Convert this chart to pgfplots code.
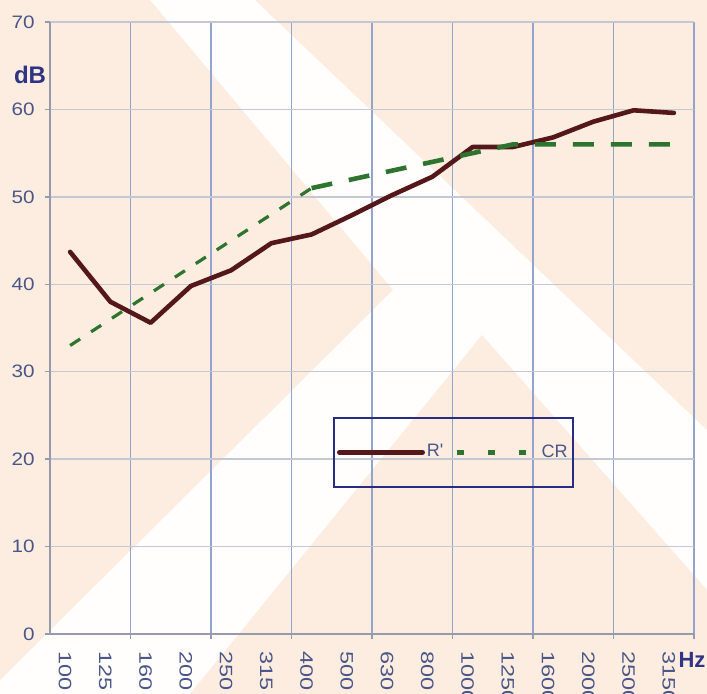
\documentclass[border=0pt]{standalone}
\usepackage{pgfplots}
\pgfplotsset{compat=1.18}
\usepackage{fontspec}
\setmainfont{Liberation Sans}
\definecolor{peach}{RGB}{252,237,224}
\definecolor{paper}{RGB}{255,254,252}
\definecolor{tickc}{RGB}{74,86,136}
\definecolor{navy}{RGB}{48,52,132}
\definecolor{rcol}{RGB}{84,24,26}
\definecolor{gcol}{RGB}{46,116,46}
\definecolor{vgrid}{RGB}{146,164,206}
\definecolor{hgrid}{RGB}{196,200,210}
\definecolor{axc}{RGB}{150,154,170}
\definecolor{lbox}{RGB}{40,44,130}
\newcommand\xl[1]{\scalebox{1.3}[1]{#1}}
\newcommand\yl[1]{\scalebox{1.15}[1]{#1}}
\begin{document}
\begin{tikzpicture}
\path[use as bounding box] (-25pt,-30pt) rectangle (328.5pt,317pt);
\fill[paper] (-25pt,-30pt) rectangle (328.5pt,317pt);
% watermark
\fill[peach] (-25pt,317pt) -- (50pt,317pt) -- (171.5pt,172pt) -- (-25pt,-23pt) -- cycle;
\fill[peach] (216pt,149.5pt) -- (328.5pt,22pt) -- (328.5pt,-30pt) -- (70pt,-30pt) -- cycle;
\fill[peach] (102.5pt,317pt) -- (328.5pt,317pt) -- (328.5pt,102pt) -- cycle;
\begin{axis}[
  at={(0pt,0pt)}, anchor=south west,
  scale only axis, width=322pt, height=306pt,
  xmin=-0.5, xmax=15.5, ymin=0, ymax=70,
  axis lines=left,
  axis line style={-, draw=axc, line width=0.9pt},
  ytick={0,10,...,70},
  yticklabels={\yl{0},\yl{10},\yl{20},\yl{30},\yl{40},\yl{50},\yl{60},\yl{70}},
  ymajorgrids, y grid style={hgrid, line width=0.7pt},
  xtick={0,...,15},
  xticklabels={\xl{100},\xl{125},\xl{160},\xl{200},\xl{250},\xl{315},\xl{400},\xl{500},\xl{630},\xl{800},\xl{1000},\xl{1250},\xl{1600},\xl{2000},\xl{2500},\xl{3150}},
  minor xtick={1.5,3.5,5.5,7.5,9.5,11.5,13.5,15.5},
  xminorgrids, minor x grid style={vgrid, line width=0.7pt},
  tick align=outside,
  major x tick style={draw=none},
  minor x tick style={draw=axc, line width=0.7pt},
  ytick style={draw=axc, line width=0.7pt},
  major tick length=2.5pt, minor tick length=2.5pt,
  tick label style={text=tickc, font=\fontsize{9}{10}\selectfont},
  xticklabel style={xshift=-2.5pt, yshift=-6pt, rotate=-90, anchor=west, inner sep=0pt},
  yticklabel style={anchor=east, inner sep=0pt, xshift=-5pt},
  legend columns=2,
  legend style={
    at={(rel axis cs:0.4394,0.3546)}, anchor=north west,
    draw=lbox, line width=1pt, fill=none,
    inner xsep=1.5pt, inner ysep=11.25pt,
    font=\fontsize{9}{10}\selectfont, text=tickc,
    nodes={inner xsep=1pt, inner ysep=2pt},
    /tikz/every even column/.append style={column sep=4.3pt},
  },
]
\addplot[rcol, line width=2.3pt, line join=round, line cap=round,
  legend image code/.code={\draw[rcol, line width=2.5pt, line cap=round, solid] (0pt,0pt) -- (41.5pt,0pt);}]
  coordinates {(0,43.7) (1,38.0) (2,35.6) (3,39.8) (4,41.6) (5,44.7) (6,45.7) (7,47.9) (8,50.2) (9,52.3) (10,55.7) (11,55.7) (12,56.8) (13,58.6) (14,59.9) (15,59.6)};
\addlegendentry{R\textquotesingle}
\addplot[gcol, line width=1.6pt, dash pattern=on 6pt off 6.5pt,
  legend image code/.code={\draw[gcol, line width=2.6pt, dash pattern=on 3.5pt off 12pt] (0pt,0pt) -- (34.5pt,0pt); \path[draw=none] (0pt,0pt) -- (41.5pt,0pt);}]
  coordinates {(0,33) (1,36) (2,39) (3,42) (4,45) (5,48) (6,51)};
\addlegendentry{CR}
\addplot[gcol, line width=2.3pt, dash pattern=on 10.5pt off 8.5pt, forget plot]
  coordinates {(6,51) (7,52) (8,53) (9,54) (10,55) (11,56) (12,56) (13,56) (14,56) (15,56)};
\end{axis}
\node[text=navy, font=\fontsize{12}{14}\selectfont\bfseries] at (-10pt,279.5pt) {dB};
\node[text=navy, font=\fontsize{11}{13}\selectfont\bfseries, fill=peach, inner sep=0.5pt] at (321pt,-13pt) {Hz};
\end{tikzpicture}
\end{document}
